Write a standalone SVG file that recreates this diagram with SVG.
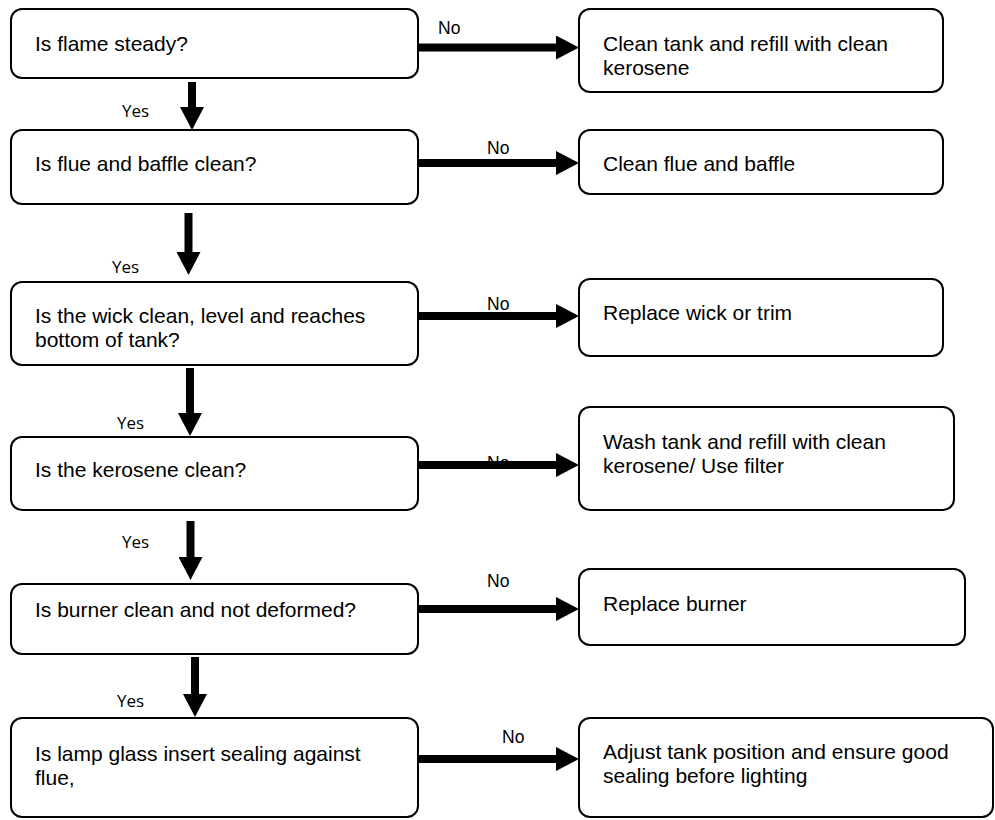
<svg xmlns="http://www.w3.org/2000/svg" width="995" height="820" viewBox="0 0 995 820">
<defs>
<marker id="ah" markerUnits="userSpaceOnUse" markerWidth="23" markerHeight="24" viewBox="0 0 23 24" refX="0" refY="12" orient="auto">
<path d="M0,0 L23,12 L0,24 Z" fill="#000"/>
</marker>
</defs>
<style>
.box{fill:#fff;stroke:#000;stroke-width:2}
.t{font-family:"Liberation Sans",Arial,sans-serif;font-size:21px;fill:#000}
.no{font-family:"Liberation Sans",Arial,sans-serif;font-size:17.5px;fill:#000}
.yes{font-family:"Open Sans","Liberation Sans",sans-serif;font-size:17px;fill:#000}
.c{stroke:#000;stroke-width:8;fill:none;marker-end:url(#ah)}
</style>
<rect width="995" height="820" fill="#fff"/>
<g id="labels">
<text class="no" x="438" y="34">No</text>
<text class="no" x="487" y="154">No</text>
<text class="no" x="487" y="310">No</text>
<text class="no" x="487" y="469">No</text>
<text class="no" x="487" y="587">No</text>
<text class="no" x="502" y="743">No</text>
<text class="yes" x="122" y="117">Yes</text>
<text class="yes" x="112" y="273">Yes</text>
<text class="yes" x="117" y="429">Yes</text>
<text class="yes" x="122" y="548">Yes</text>
<text class="yes" x="117" y="707">Yes</text>
</g>
<g id="connectors">
<line class="c" x1="418" y1="47.5" x2="556" y2="47.5"/>
<line class="c" x1="418" y1="163" x2="556" y2="163"/>
<line class="c" x1="418" y1="316" x2="556" y2="316"/>
<line class="c" x1="418" y1="465" x2="556" y2="465"/>
<line class="c" x1="418" y1="609" x2="556" y2="609"/>
<line class="c" x1="418" y1="759" x2="556" y2="759"/>
<line class="c" x1="192" y1="82" x2="192" y2="107"/>
<line class="c" x1="188.5" y1="213" x2="188.5" y2="252"/>
<line class="c" x1="190" y1="368" x2="190" y2="413"/>
<line class="c" x1="190.5" y1="521" x2="190.5" y2="557"/>
<line class="c" x1="195" y1="657" x2="195" y2="694"/>
</g>
<g id="q1"><rect class="box" x="11" y="9" width="407" height="69" rx="11"/><text class="t" x="35" y="51">Is flame steady?</text></g>
<g id="q2"><rect class="box" x="11" y="130" width="407" height="74" rx="11"/><text class="t" x="35" y="171">Is flue and baffle clean?</text></g>
<g id="q3"><rect class="box" x="11" y="282" width="407" height="83" rx="11"/><text class="t" x="35" y="323">Is the wick clean, level and reaches<tspan x="35" y="347">bottom of tank?</tspan></text></g>
<g id="q4"><rect class="box" x="11" y="437" width="407" height="73" rx="11"/><text class="t" x="35" y="477">Is the kerosene clean?</text></g>
<g id="q5"><rect class="box" x="11" y="584" width="407" height="70" rx="11"/><text class="t" x="35" y="617">Is burner clean and not deformed?</text></g>
<g id="q6"><rect class="box" x="11" y="718" width="407" height="99" rx="11"/><text class="t" x="35" y="761">Is lamp glass insert sealing against<tspan x="35" y="785">flue,</tspan></text></g>
<g id="a1"><rect class="box" x="579" y="9" width="364" height="83" rx="11"/><text class="t" x="603" y="51">Clean tank and refill with clean<tspan x="603" y="75">kerosene</tspan></text></g>
<g id="a2"><rect class="box" x="579" y="130" width="364" height="64" rx="11"/><text class="t" x="603" y="171">Clean flue and baffle</text></g>
<g id="a3"><rect class="box" x="579" y="279" width="364" height="77" rx="11"/><text class="t" x="603" y="320">Replace wick or trim</text></g>
<g id="a4"><rect class="box" x="579" y="407" width="375" height="103" rx="11"/><text class="t" x="603" y="449">Wash tank and refill with clean<tspan x="603" y="473">kerosene/ Use filter</tspan></text></g>
<g id="a5"><rect class="box" x="579" y="569" width="386" height="76" rx="11"/><text class="t" x="603" y="611">Replace burner</text></g>
<g id="a6"><rect class="box" x="579" y="718" width="414" height="99" rx="11"/><text class="t" x="603" y="759">Adjust tank position and ensure good<tspan x="603" y="783">sealing before lighting</tspan></text></g>
</svg>
